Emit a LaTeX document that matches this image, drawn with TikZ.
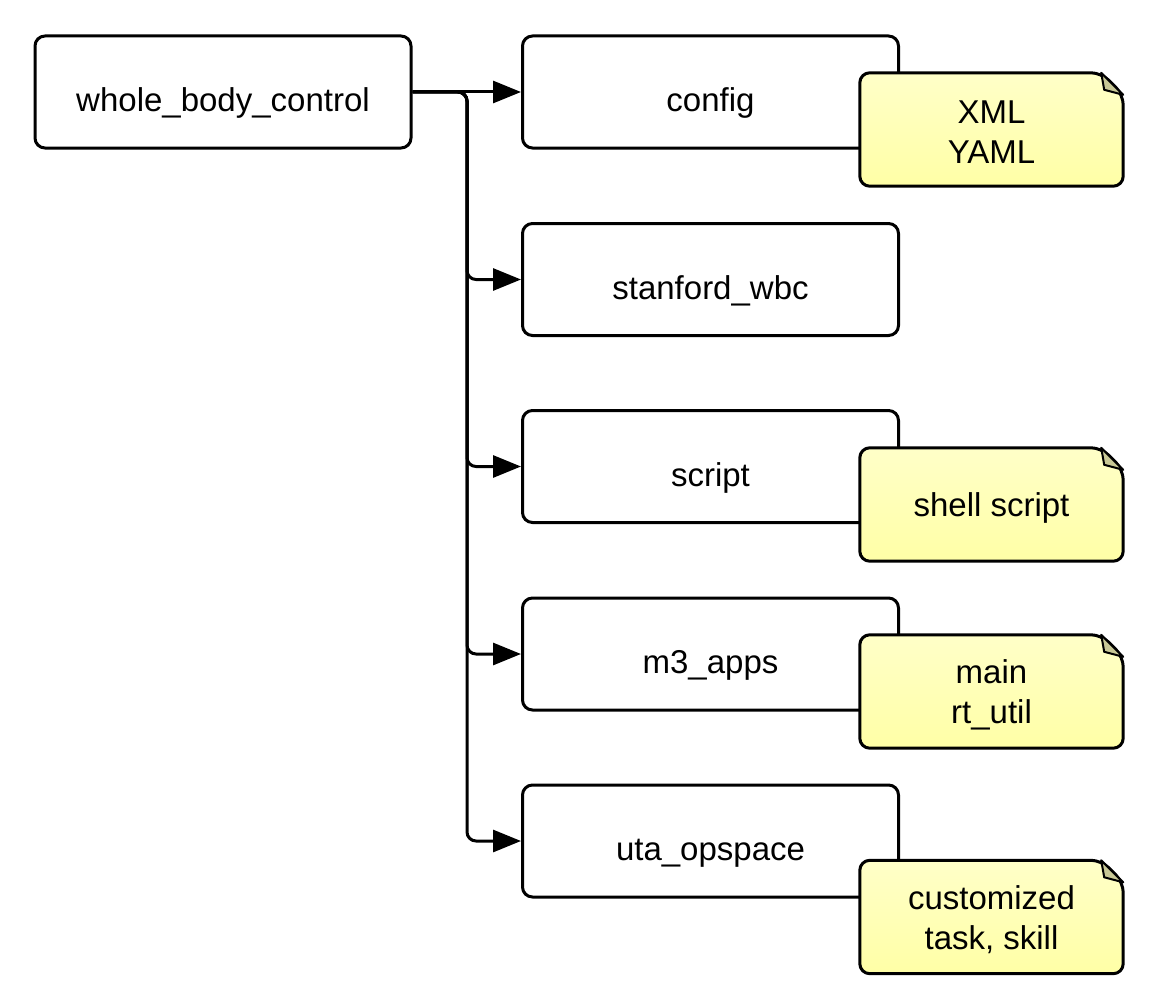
\documentclass[tikz,border=0pt]{standalone}
\usepackage{fontspec}
\setmainfont{Liberation Sans}
\usetikzlibrary{arrows.meta,calc}
\definecolor{notetop}{HTML}{FFFFC8}
\definecolor{notebot}{HTML}{FFFFA6}
\definecolor{foldcol}{HTML}{C8C896}
\tikzset{
  dirbox/.style={draw=black, line width=3pt, rounded corners=10pt, fill=white,
    minimum width=376pt, minimum height=112pt, inner sep=0pt,
    font=\fontsize{33}{40}\selectfont, text height=39pt, text depth=0pt},
  notetext/.style={minimum width=263pt, minimum height=113pt, inner sep=0pt,
    align=center, font=\fontsize{33}{40}\selectfont},
  notelabel/.style={notetext, yshift=-3pt},
  notebody/.style={draw=black, line width=3pt, rounded corners=10pt,
    top color=notetop, bottom color=notebot, line join=round},
  foldstyle/.style={draw=black, line width=2pt, fill=foldcol, line join=round},
  conn/.style={line width=3pt, rounded corners=9pt, -{Triangle[length=28pt,width=22pt]}},
}
\newcommand{\notebg}[1]{%
  \path[notebody] (#1.south west) -- (#1.north west) -- ([xshift=-22pt]#1.north east)
     -- ([yshift=-22pt]#1.north east) -- (#1.south east) -- cycle;
  \path[foldstyle] ([xshift=-22pt]#1.north east) -- ([xshift=-19pt,yshift=-17pt]#1.north east)
     -- ([yshift=-22pt]#1.north east) -- cycle;
}
\begin{document}
\begin{tikzpicture}[x=1pt,y=-1pt]
\useasboundingbox (0,0) rectangle (1149,998);
\node[dirbox] (wbc) at (223,92) {whole\_body\_control};
\node[dirbox] (config) at (710.5,92) {config};
\node[dirbox] (stanford) at (710.5,279.5) {stanford\_wbc};
\node[dirbox] (script) at (710.5,466.5) {script};
\node[dirbox] (m3) at (710.5,654) {m3\_apps};
\node[dirbox] (uta) at (710.5,841) {uta\_opspace};
\coordinate (trunk) at (467,92);
\draw[conn] (wbc.east) -- (config.west);
\draw[conn] (wbc.east) -- (trunk) |- (stanford.west);
\draw[conn] (wbc.east) -- (trunk) |- (script.west);
\draw[conn] (wbc.east) -- (trunk) |- (m3.west);
\draw[conn] (wbc.east) -- (trunk) |- (uta.west);
% notes
\node[notetext] (n1) at (991.5,129.5) {};
\notebg{n1}
\node[notelabel] (t1) at (n1) {XML\\YAML};
\node[notetext] (n2) at (991.5,504.5) {};
\notebg{n2}
\node[notelabel] (t2) at (n2) {shell script};
\node[notetext] (n3) at (991.5,691.5) {};
\notebg{n3}
\node[notelabel] (t3) at (n3) {main\\rt\_util};
\node[notetext] (n4) at (991.5,917) {};
\notebg{n4}
\node[notelabel] (t4) at (n4) {customized\\task, skill};
\end{tikzpicture}
\end{document}
